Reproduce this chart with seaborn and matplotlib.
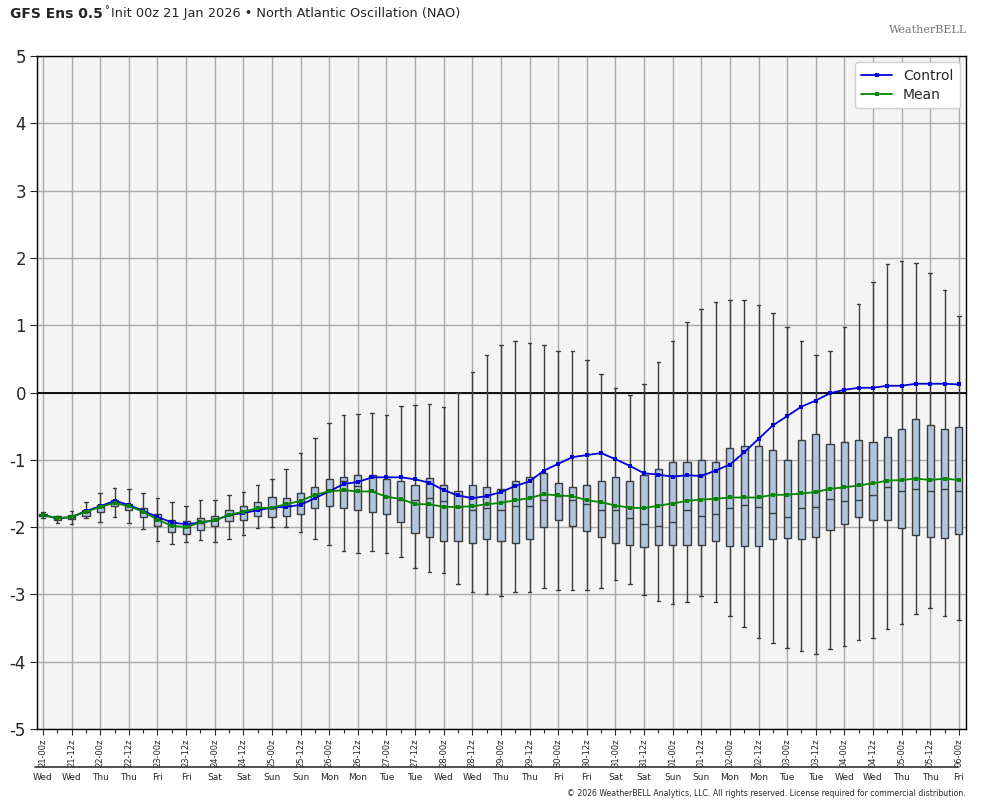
import matplotlib
matplotlib.use("Agg")
import matplotlib.pyplot as plt
import matplotlib.transforms as mtransforms
from matplotlib.lines import Line2D
import seaborn as sns
import numpy as np
import pandas as pd

# ensemble spread per 6h step (whisker high, q3, median, q1, whisker low)
hi = [-1.78, -1.83, -1.76, -1.62, -1.49, -1.42, -1.44, -1.49, -1.57, -1.62,
      -1.68, -1.60, -1.60, -1.53, -1.48, -1.37, -1.28, -1.13, -0.90, -0.67,
      -0.46, -0.34, -0.32, -0.30, -0.34, -0.20, -0.19, -0.17, -0.22, -0.01,
      0.30, 0.56, 0.71, 0.76, 0.73, 0.70, 0.61, 0.61, 0.49, 0.27,
      0.06, -0.03, 0.12, 0.46, 0.76, 1.05, 1.24, 1.34, 1.38, 1.37,
      1.30, 1.18, 0.98, 0.77, 0.55, 0.61, 0.97, 1.31, 1.64, 1.91,
      1.95, 1.92, 1.77, 1.52, 1.13]
q3 = [-1.80, -1.84, -1.82, -1.75, -1.67, -1.59, -1.65, -1.71, -1.81, -1.90,
      -1.91, -1.86, -1.84, -1.74, -1.69, -1.63, -1.56, -1.57, -1.50, -1.40,
      -1.29, -1.26, -1.22, -1.22, -1.28, -1.31, -1.37, -1.27, -1.38, -1.46,
      -1.38, -1.41, -1.43, -1.32, -1.26, -1.19, -1.34, -1.40, -1.37, -1.32,
      -1.25, -1.31, -1.23, -1.14, -1.04, -1.04, -1.01, -1.03, -0.83, -0.79,
      -0.79, -0.85, -1.00, -0.70, -0.61, -0.77, -0.74, -0.70, -0.73, -0.66,
      -0.54, -0.40, -0.48, -0.54, -0.51]
med = [-1.82, -1.86, -1.85, -1.78, -1.70, -1.63, -1.68, -1.77, -1.88, -1.97,
       -2.00, -1.94, -1.90, -1.82, -1.78, -1.72, -1.71, -1.67, -1.62, -1.53,
       -1.47, -1.31, -1.39, -1.47, -1.56, -1.60, -1.59, -1.57, -1.61, -1.70,
       -1.74, -1.71, -1.74, -1.69, -1.68, -1.60, -1.54, -1.60, -1.66, -1.74,
       -1.74, -1.87, -1.96, -1.98, -1.93, -1.74, -1.83, -1.80, -1.72, -1.67,
       -1.70, -1.79, -1.85, -1.72, -1.70, -1.58, -1.61, -1.59, -1.52, -1.40,
       -1.46, -1.43, -1.46, -1.43, -1.47]
q1 = [-1.84, -1.89, -1.88, -1.84, -1.78, -1.69, -1.74, -1.85, -1.99, -2.07,
      -2.10, -2.05, -1.99, -1.91, -1.90, -1.84, -1.85, -1.84, -1.80, -1.72,
      -1.68, -1.71, -1.75, -1.77, -1.81, -1.93, -2.09, -2.15, -2.21, -2.21,
      -2.24, -2.18, -2.20, -2.24, -2.18, -2.00, -1.89, -1.98, -2.06, -2.15,
      -2.24, -2.26, -2.29, -2.27, -2.26, -2.26, -2.26, -2.20, -2.28, -2.28,
      -2.28, -2.17, -2.16, -2.17, -2.14, -2.05, -1.95, -1.85, -1.89, -1.89,
      -2.01, -2.11, -2.14, -2.16, -2.10]
lo = [-1.87, -1.94, -1.96, -1.86, -1.92, -1.85, -1.94, -2.03, -2.21, -2.25,
      -2.22, -2.19, -2.22, -2.18, -2.12, -2.01, -2.00, -2.00, -2.08, -2.18,
      -2.27, -2.36, -2.39, -2.36, -2.38, -2.45, -2.61, -2.66, -2.68, -2.85,
      -2.96, -3.00, -3.03, -2.96, -2.97, -2.91, -2.93, -2.94, -2.94, -2.90,
      -2.79, -2.84, -3.01, -3.10, -3.15, -3.12, -3.02, -3.11, -3.32, -3.48,
      -3.65, -3.72, -3.80, -3.84, -3.89, -3.81, -3.77, -3.68, -3.65, -3.51,
      -3.44, -3.29, -3.20, -3.32, -3.38]

control = [-1.82, -1.87, -1.85, -1.76, -1.69, -1.61, -1.67, -1.76, -1.85, -1.93,
           -1.96, -1.93, -1.90, -1.82, -1.79, -1.75, -1.71, -1.70, -1.67, -1.57,
           -1.47, -1.36, -1.33, -1.26, -1.26, -1.26, -1.29, -1.34, -1.45, -1.53,
           -1.57, -1.54, -1.48, -1.39, -1.32, -1.16, -1.06, -0.96, -0.93, -0.90,
           -0.99, -1.09, -1.20, -1.22, -1.25, -1.23, -1.24, -1.16, -1.07, -0.89,
           -0.69, -0.49, -0.35, -0.21, -0.12, -0.01, 0.04, 0.07, 0.07, 0.10,
           0.10, 0.13, 0.13, 0.13, 0.12]
mean = [-1.82, -1.87, -1.85, -1.77, -1.70, -1.64, -1.69, -1.77, -1.89, -1.98,
        -2.00, -1.93, -1.90, -1.82, -1.77, -1.72, -1.71, -1.66, -1.61, -1.52,
        -1.47, -1.45, -1.47, -1.47, -1.55, -1.58, -1.66, -1.66, -1.70, -1.70,
        -1.69, -1.66, -1.64, -1.60, -1.57, -1.51, -1.53, -1.54, -1.60, -1.63,
        -1.68, -1.71, -1.72, -1.68, -1.65, -1.61, -1.59, -1.58, -1.56, -1.56,
        -1.56, -1.52, -1.52, -1.50, -1.48, -1.43, -1.41, -1.38, -1.35, -1.31,
        -1.30, -1.28, -1.30, -1.28, -1.30]

tick_labels = ["21-00z", "21-12z", "22-00z", "22-12z", "23-00z", "23-12z", "24-00z",
               "24-12z", "25-00z", "25-12z", "26-00z", "26-12z", "27-00z", "27-12z",
               "28-00z", "28-12z", "29-00z", "29-12z", "30-00z", "30-12z", "31-00z",
               "31-12z", "01-00z", "01-12z", "02-00z", "02-12z", "03-00z", "03-12z",
               "04-00z", "04-12z", "05-00z", "05-12z", "06-00z"]
weekdays = ["Wed", "Wed", "Thu", "Thu", "Fri", "Fri", "Sat", "Sat", "Sun", "Sun",
            "Mon", "Mon", "Tue", "Tue", "Wed", "Wed", "Thu", "Thu", "Fri", "Fri",
            "Sat", "Sat", "Sun", "Sun", "Mon", "Mon", "Tue", "Tue", "Wed", "Wed",
            "Thu", "Thu", "Fri"]

steps = np.arange(len(hi))

# long table so seaborn's quartiles land exactly on the read values
rows = []
for s in steps:
    for v in (lo[s], q1[s], med[s], q3[s], hi[s]):
        rows.append({"step": s, "value": v})
df = pd.DataFrame(rows)

sns.set_style("white")
plt.rcParams["font.family"] = ["DejaVu Sans"]
plt.rcParams["axes.unicode_minus"] = False

fig = plt.figure(figsize=(9.84, 8.08), dpi=100)
ax = fig.add_axes([37 / 984, 1 - 729 / 808, (966 - 37) / 984, (729 - 56) / 808])
ax.set_facecolor("#f4f4f4")

sns.boxplot(data=df, x="step", y="value", native_scale=True, whis=(0, 100),
            width=0.5, color="#b0c4de", saturation=1, linecolor="#3c3c3c",
            linewidth=1.0, fliersize=0, ax=ax, zorder=3)

sns.lineplot(x=steps, y=control, color="#0000dd", marker="s", markersize=3.5,
             markeredgewidth=0, linewidth=1.3, label="Control", ax=ax, zorder=5)
sns.lineplot(x=steps, y=mean, color="#008800", marker="s", markersize=3.5,
             markeredgewidth=0, linewidth=1.3, label="Mean", ax=ax, zorder=5)

ax.set_xlim(-0.42, 64.5)
ax.set_ylim(-5, 5)
ax.set_yticks(range(-5, 6))
ax.set_yticklabels([str(v) for v in range(-5, 6)], fontsize=12)
ax.set_xticks(steps[::2])
ax.set_xticks(steps[1::2], minor=True)
ax.set_xticklabels(tick_labels, rotation=90, fontsize=6)
ax.tick_params(axis="x", which="major", length=4, width=0.8, pad=3, direction="out", bottom=True)
ax.tick_params(axis="x", which="minor", length=3, width=0.8, direction="out", bottom=True)
ax.tick_params(axis="y", length=5, width=0.8, direction="out", left=True, pad=3)
ax.set_xlabel("")
ax.set_ylabel("")

ax.grid(True, which="major", color="#ababab", linewidth=1.0, zorder=0)
ax.set_axisbelow(True)
ax.axhline(0, color="black", linewidth=1.3, zorder=2)
for sp in ax.spines.values():
    sp.set_visible(True)
    sp.set_color("black")
    sp.set_linewidth(1.0)

leg = ax.legend(loc="upper right", fontsize=10, frameon=True, fancybox=True,
                borderpad=0.45, handlelength=2.2, labelspacing=0.4,
                borderaxespad=0.45)
leg.get_frame().set_edgecolor("#d0d0d0")
leg.get_frame().set_facecolor("white")
leg.get_frame().set_alpha(1)

# weekday row under the time labels
trans = mtransforms.blended_transform_factory(ax.transData, fig.transFigure)
for i, d in enumerate(weekdays):
    ax.text(steps[::2][i], 1 - 777 / 808, d, transform=trans, ha="center",
            va="center", fontsize=6.5, clip_on=False)
fig.add_artist(Line2D([35 / 984, 958 / 984], [1 - 767 / 808, 1 - 767 / 808],
                      color="#333333", linewidth=1.2))

# title
t1 = fig.text(10 / 984, 1 - 14 / 808, "GFS Ens 0.5", fontsize=10,
              fontweight="bold", va="center", ha="left")
fig.canvas.draw()
bb = t1.get_window_extent()
x1 = bb.x1 / fig.bbox.width
fig.text(x1 + 1 / 984, 1 - 10 / 808, "°", fontsize=7, va="center", ha="left")
fig.text(x1 + 8 / 984, 1 - 14 / 808, "Init 00z 21 Jan 2026 • North Atlantic Oscillation (NAO)",
         fontsize=9.3, va="center", ha="left")

fig.text(928 / 984, 1 - 30 / 808, "WeatherBELL", fontsize=8, color="#777777",
         ha="center", va="center", family="serif")

fig.text(966 / 984, 1 - 793 / 808,
         "© 2026 WeatherBELL Analytics, LLC. All rights reserved. License required for commercial distribution.",
         fontsize=5.6, ha="right", va="center")

fig.savefig("out.png", dpi=100)
